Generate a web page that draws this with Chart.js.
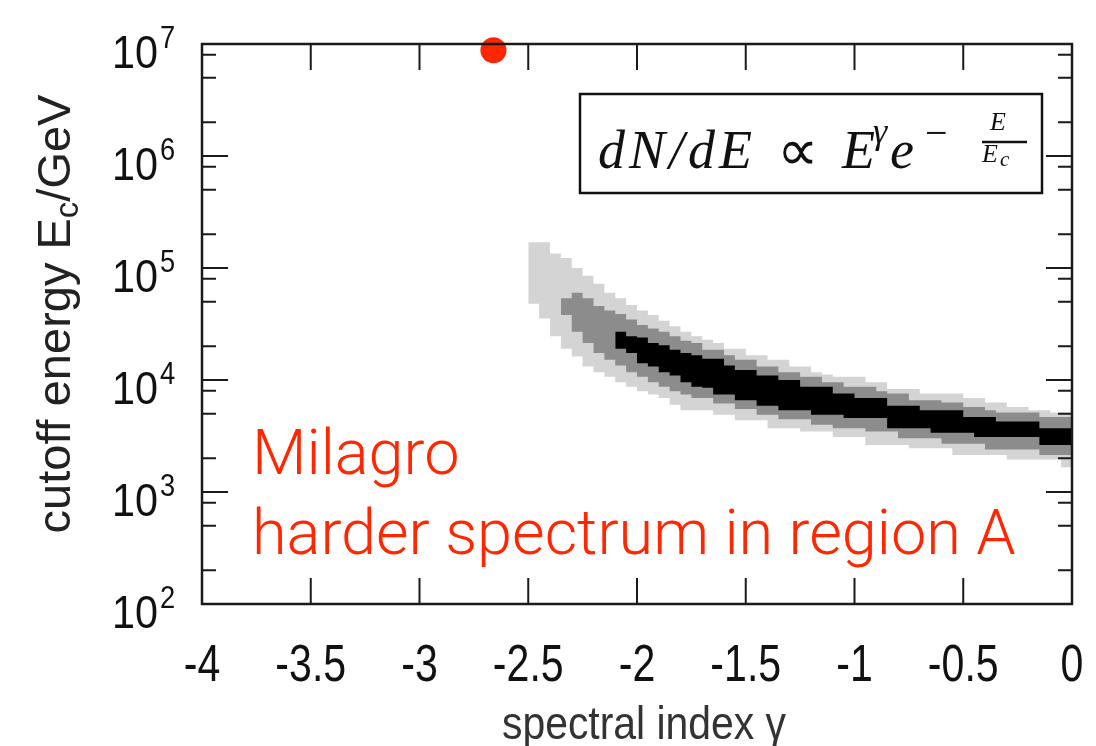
<!DOCTYPE html>
<html>
<head>
<meta charset="utf-8">
<script src="https://cdn.jsdelivr.net/npm/chart.js@4.4.1/dist/chart.umd.min.js"></script>
<style>
  html, body { margin: 0; padding: 0; background: #fff; }
  #wrap { width: 1096px; height: 746px; }
</style>
</head>
<body>
<div id="wrap"><canvas id="chart" width="1096" height="746"></canvas></div>
<script>
// column edges of the likelihood map (spectral index gamma)
const gammaEdges = [-2.5, -2.45, -2.4, -2.35, -2.3, -2.25, -2.2, -2.15, -2.1, -2.05,
  -2, -1.95, -1.9, -1.85, -1.8, -1.75, -1.7, -1.65, -1.6, -1.55,
  -1.5, -1.45, -1.4, -1.35, -1.3, -1.25, -1.2, -1.15, -1.1, -1.05,
  -1, -0.95, -0.9, -0.85, -0.8, -0.75, -0.7, -0.65, -0.6, -0.55,
  -0.5, -0.45, -0.4, -0.35, -0.3, -0.25, -0.2, -0.15, -0.1, -0.05, 0];

// band limits per column, log10(Ec / GeV)
const lightUpper = [5.23, 5.23, 5.13, 5.09, 5.00, 4.93, 4.86, 4.78, 4.73, 4.67,
  4.62, 4.58, 4.53, 4.48, 4.43, 4.39, 4.36, 4.33, 4.28, 4.28,
  4.22, 4.22, 4.18, 4.18, 4.12, 4.12, 4.07, 4.05, 4.03, 4.03,
  4.03, 3.98, 3.98, 3.92, 3.92, 3.92, 3.88, 3.88, 3.88, 3.88,
  3.84, 3.84, 3.80, 3.80, 3.76, 3.76, 3.73, 3.73, 3.71, 3.71];
const lightLower = [4.68, 4.55, 4.39, 4.28, 4.21, 4.12, 4.07, 4.03, 3.98, 3.94,
  3.90, 3.87, 3.84, 3.78, 3.73, 3.73, 3.73, 3.69, 3.69, 3.64,
  3.64, 3.64, 3.57, 3.57, 3.57, 3.54, 3.54, 3.54, 3.49, 3.49,
  3.49, 3.42, 3.42, 3.42, 3.42, 3.39, 3.39, 3.39, 3.39, 3.33,
  3.33, 3.33, 3.33, 3.33, 3.29, 3.29, 3.29, 3.29, 3.29, 3.22];
const midUpper = [null, null, null, 4.73, 4.78, 4.73, 4.66, 4.62, 4.59, 4.54,
  4.49, 4.46, 4.43, 4.39, 4.35, 4.33, 4.27, 4.27, 4.22, 4.18,
  4.18, 4.12, 4.12, 4.07, 4.07, 4.03, 4.03, 3.98, 3.98, 3.94,
  3.94, 3.94, 3.90, 3.88, 3.88, 3.82, 3.82, 3.82, 3.80, 3.80,
  3.76, 3.76, 3.73, 3.71, 3.71, 3.71, 3.71, 3.67, 3.67, 3.67];
const midLower = [null, null, null, 4.58, 4.43, 4.33, 4.24, 4.18, 4.13, 4.07,
  4.03, 3.98, 3.94, 3.90, 3.87, 3.84, 3.84, 3.79, 3.79, 3.74,
  3.74, 3.69, 3.69, 3.65, 3.65, 3.65, 3.60, 3.60, 3.57, 3.57,
  3.57, 3.54, 3.54, 3.54, 3.48, 3.48, 3.48, 3.48, 3.43, 3.43,
  3.43, 3.43, 3.38, 3.38, 3.38, 3.38, 3.38, 3.33, 3.33, 3.33];
const coreUpper = [null, null, null, null, null, null, null, null, 4.43, 4.39,
  4.38, 4.33, 4.31, 4.27, 4.24, 4.22, 4.19, 4.19, 4.13, 4.09,
  4.09, 4.04, 4.04, 4.00, 4.00, 3.94, 3.94, 3.94, 3.88, 3.88,
  3.84, 3.84, 3.84, 3.77, 3.77, 3.77, 3.73, 3.73, 3.73, 3.73,
  3.67, 3.67, 3.67, 3.63, 3.63, 3.63, 3.63, 3.57, 3.57, 3.57];
const coreLower = [null, null, null, null, null, null, null, null, 4.28, 4.24,
  4.15, 4.12, 4.07, 4.04, 3.98, 3.94, 3.93, 3.87, 3.87, 3.82,
  3.82, 3.77, 3.77, 3.73, 3.73, 3.73, 3.69, 3.69, 3.69, 3.66,
  3.66, 3.66, 3.66, 3.57, 3.57, 3.57, 3.57, 3.53, 3.53, 3.53,
  3.53, 3.49, 3.49, 3.49, 3.49, 3.49, 3.49, 3.42, 3.42, 3.42];

// best fit marker
const bestGamma = [-2.66];
const bestEc = [8.8e6];

const xTicks = [-4, -3.5, -3, -2.5, -2, -1.5, -1, -0.5, 0];
const xLabels = ["-4", "-3.5", "-3", "-2.5", "-2", "-1.5", "-1", "-0.5", "0"];
const decades = [2, 3, 4, 5, 6, 7];
const minorSteps = [2, 5, 8];

const RED = "rgb(255, 38, 0)";
const SANS = "'Liberation Sans', Arial, sans-serif";
const SERIF = "'Liberation Serif', serif";

function bandPoints(vals) {
  const pts = [];
  let last = null;
  vals.forEach((v, i) => {
    if (v === null) return;
    pts.push({ x: gammaEdges[i], y: Math.pow(10, v) });
    last = i;
  });
  // close last column at its right edge
  pts.push({ x: gammaEdges[last + 1], y: Math.pow(10, vals[last]) });
  return pts;
}

function edge(vals) {
  return { data: bandPoints(vals), stepped: true, borderWidth: 0, pointRadius: 0, fill: false };
}
function fillTo(vals, color) {
  return { data: bandPoints(vals), stepped: true, borderWidth: 0, pointRadius: 0, fill: "-1", backgroundColor: color };
}

// condensed text, like the squeezed original figure
function squeezed(ctx, text, x, y, sx, align) {
  ctx.save();
  ctx.translate(x, y);
  ctx.scale(sx, 1);
  ctx.textAlign = align;
  ctx.fillText(text, 0, 0);
  ctx.restore();
}

const frame = {
  id: "frame",
  afterDraw(chart) {
    const { ctx, chartArea: a, scales: { x, y } } = chart;
    ctx.save();
    ctx.strokeStyle = "#1a1a1a";
    ctx.lineWidth = 2;
    ctx.beginPath();
    xTicks.forEach(t => {
      const px = x.getPixelForValue(t);
      ctx.moveTo(px, a.bottom); ctx.lineTo(px, a.bottom - 26);
      ctx.moveTo(px, a.top); ctx.lineTo(px, a.top + 26);
    });
    decades.forEach(d => {
      const py = y.getPixelForValue(Math.pow(10, d));
      ctx.moveTo(a.left, py); ctx.lineTo(a.left + 26, py);
      ctx.moveTo(a.right, py); ctx.lineTo(a.right - 26, py);
      if (d < 7) {
        minorSteps.forEach(m => {
          const pm = y.getPixelForValue(m * Math.pow(10, d));
          ctx.moveTo(a.left, pm); ctx.lineTo(a.left + 14, pm);
          ctx.moveTo(a.right, pm); ctx.lineTo(a.right - 14, pm);
        });
      }
    });
    ctx.stroke();
    ctx.lineWidth = 2.5;
    ctx.strokeRect(a.left, a.top, a.right - a.left, a.bottom - a.top);

    // x tick labels and title
    ctx.fillStyle = "#111";
    ctx.textBaseline = "alphabetic";
    ctx.font = "52px " + SANS;
    xTicks.forEach((t, i) => squeezed(ctx, xLabels[i], x.getPixelForValue(t), 681, 0.79, "center"));
    ctx.fillStyle = "#333";
    ctx.font = "47px " + SANS;
    squeezed(ctx, "spectral index \u03B3", 644, 739, 0.87, "center");

    // y tick labels 10^n
    ctx.fillStyle = "#111";
    decades.forEach(d => {
      const py = y.getPixelForValue(Math.pow(10, d));
      ctx.font = "47px " + SANS;
      squeezed(ctx, "10", 158, py + 24, 0.88, "right");
      ctx.font = "31px " + SANS;
      squeezed(ctx, String(d), 160, py + 4, 0.88, "left");
    });

    // y axis title with subscript
    ctx.save();
    ctx.translate(54, 314);
    ctx.rotate(-Math.PI / 2);
    ctx.fillStyle = "#222";
    const big = "47px " + SANS;
    const small = "33px " + SANS;
    ctx.font = big;
    const w1 = ctx.measureText("cutoff energy E").width;
    const w3 = ctx.measureText("/GeV").width;
    ctx.font = small;
    const w2 = ctx.measureText("c").width;
    const sx = -(w1 + w2 + w3) / 2;
    ctx.textAlign = "left";
    ctx.font = big;
    ctx.fillText("cutoff energy E", sx, 16);
    ctx.font = small;
    ctx.fillText("c", sx + w1, 24);
    ctx.font = big;
    ctx.fillText("/GeV", sx + w1 + w2, 16);
    ctx.restore();

    // formula box
    ctx.lineWidth = 2.5;
    ctx.strokeStyle = "#111";
    ctx.strokeRect(580, 94, 462, 99);
    ctx.fillStyle = "#111";
    ctx.textAlign = "left";
    ctx.font = "italic 54px " + SERIF;
    ctx.letterSpacing = "4px";
    ctx.fillText("dN/dE", 598, 168);
    ctx.letterSpacing = "0px";
    ctx.font = "58px " + SERIF;
    ctx.fillText("\u221D", 777, 170);
    ctx.font = "italic 54px " + SERIF;
    ctx.fillText("E", 842, 168);
    ctx.font = "italic 36px " + SERIF;
    ctx.fillText("\u03B3", 873, 143);
    ctx.font = "italic 54px " + SERIF;
    ctx.fillText("e", 890, 168);
    ctx.font = "40px " + SERIF;
    ctx.fillText("\u2212", 925, 146);
    ctx.font = "italic 26px " + SERIF;
    ctx.fillText("E", 990, 130);
    ctx.fillText("E", 982, 162);
    ctx.font = "italic 21px " + SERIF;
    ctx.fillText("c", 1000, 166);
    ctx.beginPath();
    ctx.lineWidth = 2.5;
    ctx.moveTo(982, 142); ctx.lineTo(1027, 142);
    ctx.stroke();

    // annotation
    ctx.fillStyle = RED;
    ctx.font = "300 63px Roboto, 'Liberation Sans', sans-serif";
    ctx.fillText("Milagro", 252, 474);
    ctx.fillText("harder spectrum in region A", 252, 554);
    ctx.restore();
  }
};

new Chart(document.getElementById("chart"), {
  type: "line",
  data: {
    datasets: [
      {
        data: bestGamma.map((g, i) => ({ x: g, y: bestEc[i] })),
        showLine: false, pointRadius: 13, pointHoverRadius: 13,
        pointBackgroundColor: RED, pointBorderWidth: 0, clip: false
      },
      edge(coreUpper), fillTo(coreLower, "#000000"),
      edge(midUpper), fillTo(midLower, "#8c8c8c"),
      edge(lightUpper), fillTo(lightLower, "#d4d4d4")
    ]
  },
  plugins: [frame],
  options: {
    responsive: false,
    animation: false,
    layout: { autoPadding: false, padding: { left: 202, top: 44, right: 24, bottom: 142 } },
    plugins: { legend: { display: false }, tooltip: { enabled: false } },
    scales: {
      x: { type: "linear", min: -4, max: 0, display: false },
      y: { type: "logarithmic", min: 100, max: 1e7, display: false }
    }
  }
});
</script>
</body>
</html>
